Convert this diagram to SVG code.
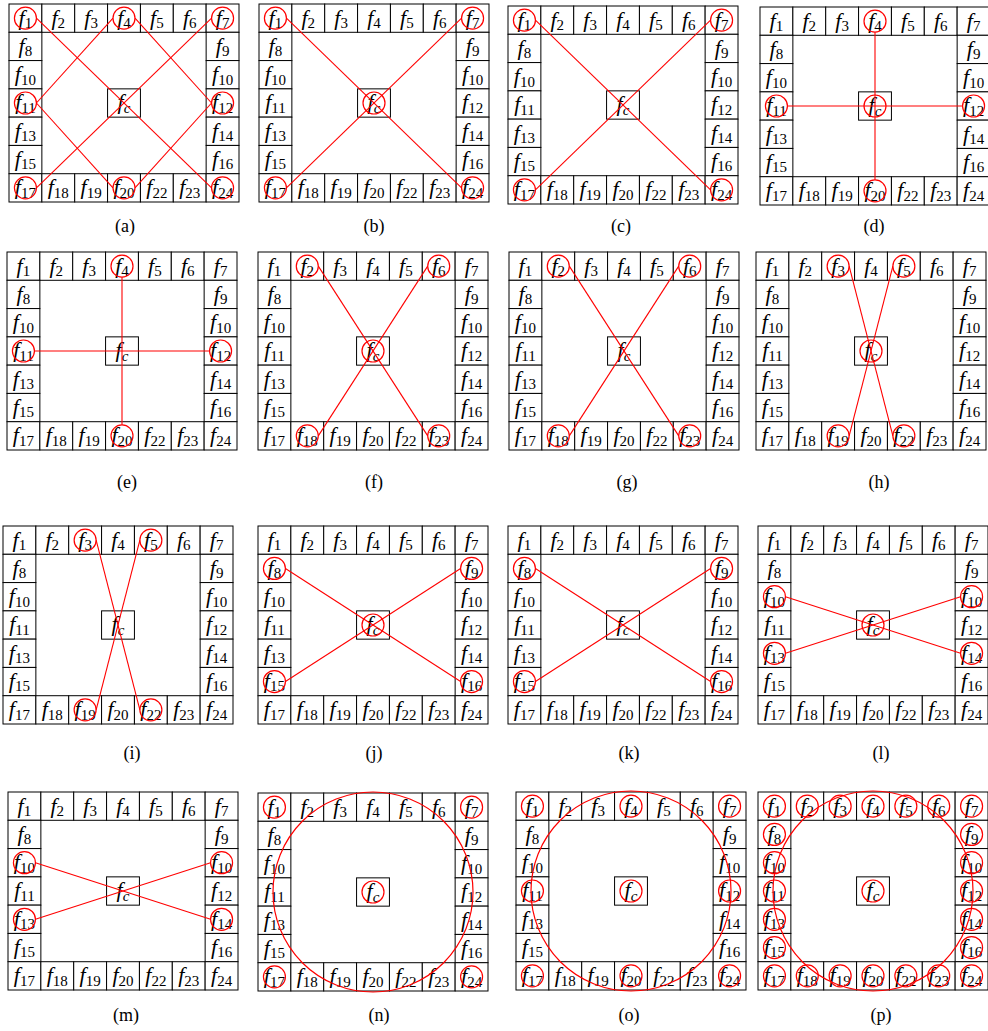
<svg xmlns="http://www.w3.org/2000/svg" xmlns:xlink="http://www.w3.org/1999/xlink" width="988" height="1031" viewBox="0 0 988 1031">
<style>
.cell rect{fill:#fff;stroke:#000;stroke-width:1}
.t{font-family:"Liberation Serif","Times New Roman",serif;font-size:22px;font-style:italic;text-anchor:middle;fill:#000}
.s{font-size:15px;font-style:normal}
.sc{font-size:15px;font-style:italic}
.mk circle{fill:none;stroke:#f00;stroke-width:1.2}
.conn line{stroke:#f00;stroke-width:1.1;fill:none}
.big{fill:none;stroke:#f00;stroke-width:1.2}
.lbl{font-family:"Liberation Serif","Times New Roman",serif;font-size:18px;text-anchor:middle;fill:#000}
</style>
<defs>
<g id="frame">
<g id="cell-f1" class="cell"><rect x="0" y="0" width="32.86" height="28.29"/><text class="t" x="16.43" y="20.5">f<tspan class="s" dy="3.5">1</tspan></text></g>
<g id="cell-f2" class="cell"><rect x="32.86" y="0" width="32.86" height="28.29"/><text class="t" x="49.29" y="20.5">f<tspan class="s" dy="3.5">2</tspan></text></g>
<g id="cell-f3" class="cell"><rect x="65.71" y="0" width="32.86" height="28.29"/><text class="t" x="82.14" y="20.5">f<tspan class="s" dy="3.5">3</tspan></text></g>
<g id="cell-f4" class="cell"><rect x="98.57" y="0" width="32.86" height="28.29"/><text class="t" x="115" y="20.5">f<tspan class="s" dy="3.5">4</tspan></text></g>
<g id="cell-f5" class="cell"><rect x="131.43" y="0" width="32.86" height="28.29"/><text class="t" x="147.86" y="20.5">f<tspan class="s" dy="3.5">5</tspan></text></g>
<g id="cell-f6" class="cell"><rect x="164.29" y="0" width="32.86" height="28.29"/><text class="t" x="180.71" y="20.5">f<tspan class="s" dy="3.5">6</tspan></text></g>
<g id="cell-f7" class="cell"><rect x="197.14" y="0" width="32.86" height="28.29"/><text class="t" x="213.57" y="20.5">f<tspan class="s" dy="3.5">7</tspan></text></g>
<g id="cell-f8" class="cell"><rect x="0" y="28.29" width="32.86" height="28.29"/><text class="t" x="16.43" y="48.79">f<tspan class="s" dy="3.5">8</tspan></text></g>
<g id="cell-f10-left" class="cell"><rect x="0" y="56.57" width="32.86" height="28.29"/><text class="t" x="16.43" y="77.07">f<tspan class="s" dy="3.5">10</tspan></text></g>
<g id="cell-f11" class="cell"><rect x="0" y="84.86" width="32.86" height="28.29"/><text class="t" x="16.43" y="105.36">f<tspan class="s" dy="3.5">11</tspan></text></g>
<g id="cell-f13" class="cell"><rect x="0" y="113.14" width="32.86" height="28.29"/><text class="t" x="16.43" y="133.64">f<tspan class="s" dy="3.5">13</tspan></text></g>
<g id="cell-f15" class="cell"><rect x="0" y="141.43" width="32.86" height="28.29"/><text class="t" x="16.43" y="161.93">f<tspan class="s" dy="3.5">15</tspan></text></g>
<g id="cell-f9" class="cell"><rect x="197.14" y="28.29" width="32.86" height="28.29"/><text class="t" x="213.57" y="48.79">f<tspan class="s" dy="3.5">9</tspan></text></g>
<g id="cell-f10-right" class="cell"><rect x="197.14" y="56.57" width="32.86" height="28.29"/><text class="t" x="213.57" y="77.07">f<tspan class="s" dy="3.5">10</tspan></text></g>
<g id="cell-f12" class="cell"><rect x="197.14" y="84.86" width="32.86" height="28.29"/><text class="t" x="213.57" y="105.36">f<tspan class="s" dy="3.5">12</tspan></text></g>
<g id="cell-f14" class="cell"><rect x="197.14" y="113.14" width="32.86" height="28.29"/><text class="t" x="213.57" y="133.64">f<tspan class="s" dy="3.5">14</tspan></text></g>
<g id="cell-f16" class="cell"><rect x="197.14" y="141.43" width="32.86" height="28.29"/><text class="t" x="213.57" y="161.93">f<tspan class="s" dy="3.5">16</tspan></text></g>
<g id="cell-f17" class="cell"><rect x="0" y="169.71" width="32.86" height="28.29"/><text class="t" x="16.43" y="190.21">f<tspan class="s" dy="3.5">17</tspan></text></g>
<g id="cell-f18" class="cell"><rect x="32.86" y="169.71" width="32.86" height="28.29"/><text class="t" x="49.29" y="190.21">f<tspan class="s" dy="3.5">18</tspan></text></g>
<g id="cell-f19" class="cell"><rect x="65.71" y="169.71" width="32.86" height="28.29"/><text class="t" x="82.14" y="190.21">f<tspan class="s" dy="3.5">19</tspan></text></g>
<g id="cell-f20" class="cell"><rect x="98.57" y="169.71" width="32.86" height="28.29"/><text class="t" x="115" y="190.21">f<tspan class="s" dy="3.5">20</tspan></text></g>
<g id="cell-f22" class="cell"><rect x="131.43" y="169.71" width="32.86" height="28.29"/><text class="t" x="147.86" y="190.21">f<tspan class="s" dy="3.5">22</tspan></text></g>
<g id="cell-f23" class="cell"><rect x="164.29" y="169.71" width="32.86" height="28.29"/><text class="t" x="180.71" y="190.21">f<tspan class="s" dy="3.5">23</tspan></text></g>
<g id="cell-f24" class="cell"><rect x="197.14" y="169.71" width="32.86" height="28.29"/><text class="t" x="213.57" y="190.21">f<tspan class="s" dy="3.5">24</tspan></text></g>
<g id="cell-fc" class="cell"><rect x="98.57" y="84.86" width="32.86" height="28.29"/><text class="t" x="115" y="105.36">f<tspan class="sc" dy="3.5">c</tspan></text></g>
</g>
</defs>

<g id="panel-a">
<g transform="translate(9,4)">
<use xlink:href="#frame" href="#frame"/>
<g class="conn" id="a-connectors">
<line x1="27.43" y1="14.14" x2="202.57" y2="183.86"/>
<line x1="202.57" y1="14.14" x2="27.43" y2="183.86"/>
<line x1="104" y1="14.14" x2="27.43" y2="99"/>
<line x1="126" y1="14.14" x2="202.57" y2="99"/>
<line x1="27.43" y1="99" x2="104" y2="183.86"/>
<line x1="202.57" y1="99" x2="126" y2="183.86"/>
</g>
<g class="mk" id="a-marks">
<circle cx="16.43" cy="14.14" r="11"/><circle cx="115" cy="14.14" r="11"/><circle cx="213.57" cy="14.14" r="11"/>
<circle cx="16.43" cy="99" r="11"/><circle cx="213.57" cy="99" r="11"/>
<circle cx="16.43" cy="183.86" r="11"/><circle cx="115" cy="183.86" r="11"/><circle cx="213.57" cy="183.86" r="11"/>
</g>
</g>
<text class="lbl" x="125" y="232">(a)</text>
</g>

<g id="panel-b">
<g transform="translate(259,4)">
<use xlink:href="#frame" href="#frame"/>
<g class="conn" id="b-connectors">
<line x1="27.43" y1="14.14" x2="202.57" y2="183.86"/>
<line x1="202.57" y1="14.14" x2="27.43" y2="183.86"/>
</g>
<g class="mk" id="b-marks">
<circle cx="16.43" cy="14.14" r="11"/><circle cx="213.57" cy="14.14" r="11"/>
<circle cx="16.43" cy="183.86" r="11"/><circle cx="213.57" cy="183.86" r="11"/>
<circle cx="115" cy="99" r="11"/>
</g>
</g>
<text class="lbl" x="374" y="232">(b)</text>
</g>

<g id="panel-c">
<g transform="translate(508,6)">
<use xlink:href="#frame" href="#frame"/>
<g class="conn" id="c-connectors">
<line x1="27.43" y1="14.14" x2="202.57" y2="183.86"/>
<line x1="202.57" y1="14.14" x2="27.43" y2="183.86"/>
</g>
<g class="mk" id="c-marks">
<circle cx="16.43" cy="14.14" r="11"/><circle cx="213.57" cy="14.14" r="11"/>
<circle cx="16.43" cy="183.86" r="11"/><circle cx="213.57" cy="183.86" r="11"/>
</g>
</g>
<text class="lbl" x="621" y="232">(c)</text>
</g>

<g id="panel-d">
<g transform="translate(760,7)">
<use xlink:href="#frame" href="#frame"/>
<g class="conn" id="d-connectors">
<line x1="115" y1="25.14" x2="115" y2="172.86"/>
<line x1="27.43" y1="99" x2="202.57" y2="99"/>
</g>
<g class="mk" id="d-marks">
<circle cx="115" cy="14.14" r="11"/><circle cx="16.43" cy="99" r="11"/><circle cx="213.57" cy="99" r="11"/>
<circle cx="115" cy="183.86" r="11"/><circle cx="115" cy="99" r="11"/>
</g>
</g>
<text class="lbl" x="874" y="232">(d)</text>
</g>

<g id="panel-e">
<g transform="translate(7,252)">
<use xlink:href="#frame" href="#frame"/>
<g class="conn" id="e-connectors">
<line x1="115" y1="25.14" x2="115" y2="172.86"/>
<line x1="27.43" y1="99" x2="202.57" y2="99"/>
</g>
<g class="mk" id="e-marks">
<circle cx="115" cy="14.14" r="11"/><circle cx="16.43" cy="99" r="11"/><circle cx="213.57" cy="99" r="11"/>
<circle cx="115" cy="183.86" r="11"/>
</g>
</g>
<text class="lbl" x="127" y="488">(e)</text>
</g>

<g id="panel-f">
<g transform="translate(258,252)">
<use xlink:href="#frame" href="#frame"/>
<g class="conn" id="f-connectors">
<line x1="60.29" y1="14.14" x2="169.71" y2="183.86"/>
<line x1="169.71" y1="14.14" x2="60.29" y2="183.86"/>
</g>
<g class="mk" id="f-marks">
<circle cx="49.29" cy="14.14" r="11"/><circle cx="180.71" cy="14.14" r="11"/>
<circle cx="49.29" cy="183.86" r="11"/><circle cx="180.71" cy="183.86" r="11"/>
<circle cx="115" cy="99" r="11"/>
</g>
</g>
<text class="lbl" x="374" y="488">(f)</text>
</g>

<g id="panel-g">
<g transform="translate(509,252)">
<use xlink:href="#frame" href="#frame"/>
<g class="conn" id="g-connectors">
<line x1="60.29" y1="14.14" x2="169.71" y2="183.86"/>
<line x1="169.71" y1="14.14" x2="60.29" y2="183.86"/>
</g>
<g class="mk" id="g-marks">
<circle cx="49.29" cy="14.14" r="11"/><circle cx="180.71" cy="14.14" r="11"/>
<circle cx="49.29" cy="183.86" r="11"/><circle cx="180.71" cy="183.86" r="11"/>
</g>
</g>
<text class="lbl" x="627" y="488">(g)</text>
</g>

<g id="panel-h">
<g transform="translate(756,252)">
<use xlink:href="#frame" href="#frame"/>
<g class="conn" id="h-connectors">
<line x1="93.14" y1="14.14" x2="136.86" y2="183.86"/>
<line x1="136.86" y1="14.14" x2="93.14" y2="183.86"/>
</g>
<g class="mk" id="h-marks">
<circle cx="82.14" cy="14.14" r="11"/><circle cx="147.86" cy="14.14" r="11"/>
<circle cx="82.14" cy="183.86" r="11"/><circle cx="147.86" cy="183.86" r="11"/>
<circle cx="115" cy="99" r="11"/>
</g>
</g>
<text class="lbl" x="879" y="488">(h)</text>
</g>

<g id="panel-i">
<g transform="translate(3,526)">
<use xlink:href="#frame" href="#frame"/>
<g class="conn" id="i-connectors">
<line x1="93.14" y1="14.14" x2="136.86" y2="183.86"/>
<line x1="136.86" y1="14.14" x2="93.14" y2="183.86"/>
</g>
<g class="mk" id="i-marks">
<circle cx="82.14" cy="14.14" r="11"/><circle cx="147.86" cy="14.14" r="11"/>
<circle cx="82.14" cy="183.86" r="11"/><circle cx="147.86" cy="183.86" r="11"/>
</g>
</g>
<text class="lbl" x="132" y="759">(i)</text>
</g>

<g id="panel-j">
<g transform="translate(258,526)">
<use xlink:href="#frame" href="#frame"/>
<g class="conn" id="j-connectors">
<line x1="27.43" y1="42.43" x2="202.57" y2="155.57"/>
<line x1="202.57" y1="42.43" x2="27.43" y2="155.57"/>
</g>
<g class="mk" id="j-marks">
<circle cx="16.43" cy="42.43" r="11"/><circle cx="213.57" cy="42.43" r="11"/>
<circle cx="16.43" cy="155.57" r="11"/><circle cx="213.57" cy="155.57" r="11"/>
<circle cx="115" cy="99" r="11"/>
</g>
</g>
<text class="lbl" x="374" y="759">(j)</text>
</g>

<g id="panel-k">
<g transform="translate(508,526)">
<use xlink:href="#frame" href="#frame"/>
<g class="conn" id="k-connectors">
<line x1="27.43" y1="42.43" x2="202.57" y2="155.57"/>
<line x1="202.57" y1="42.43" x2="27.43" y2="155.57"/>
</g>
<g class="mk" id="k-marks">
<circle cx="16.43" cy="42.43" r="11"/><circle cx="213.57" cy="42.43" r="11"/>
<circle cx="16.43" cy="155.57" r="11"/><circle cx="213.57" cy="155.57" r="11"/>
</g>
</g>
<text class="lbl" x="629" y="759">(k)</text>
</g>

<g id="panel-l">
<g transform="translate(758,526)">
<use xlink:href="#frame" href="#frame"/>
<g class="conn" id="l-connectors">
<line x1="27.43" y1="70.71" x2="202.57" y2="127.29"/>
<line x1="202.57" y1="70.71" x2="27.43" y2="127.29"/>
</g>
<g class="mk" id="l-marks">
<circle cx="16.43" cy="70.71" r="11"/><circle cx="213.57" cy="70.71" r="11"/>
<circle cx="16.43" cy="127.29" r="11"/><circle cx="213.57" cy="127.29" r="11"/>
<circle cx="115" cy="99" r="11"/>
</g>
</g>
<text class="lbl" x="881" y="759">(l)</text>
</g>

<g id="panel-m">
<g transform="translate(8,792)">
<use xlink:href="#frame" href="#frame"/>
<g class="conn" id="m-connectors">
<line x1="27.43" y1="70.71" x2="202.57" y2="127.29"/>
<line x1="202.57" y1="70.71" x2="27.43" y2="127.29"/>
</g>
<g class="mk" id="m-marks">
<circle cx="16.43" cy="70.71" r="11"/><circle cx="213.57" cy="70.71" r="11"/>
<circle cx="16.43" cy="127.29" r="11"/><circle cx="213.57" cy="127.29" r="11"/>
</g>
</g>
<text class="lbl" x="126" y="1021">(m)</text>
</g>

<g id="panel-n">
<g transform="translate(258,793)">
<use xlink:href="#frame" href="#frame"/>
<g class="conn" id="n-connectors">
<circle class="big" cx="115" cy="99" r="100"/>
</g>
<g class="mk" id="n-marks">
<circle cx="16.43" cy="14.14" r="11"/><circle cx="213.57" cy="14.14" r="11"/>
<circle cx="16.43" cy="183.86" r="11"/><circle cx="213.57" cy="183.86" r="11"/>
<circle cx="115" cy="99" r="11"/>
</g>
</g>
<text class="lbl" x="379" y="1021">(n)</text>
</g>

<g id="panel-o">
<g transform="translate(516,792)">
<use xlink:href="#frame" href="#frame"/>
<g class="conn" id="o-connectors">
<circle class="big" cx="115" cy="99" r="100"/>
</g>
<g class="mk" id="o-marks">
<circle cx="16.43" cy="14.14" r="11"/><circle cx="115" cy="14.14" r="11"/><circle cx="213.57" cy="14.14" r="11"/>
<circle cx="16.43" cy="99" r="11"/><circle cx="213.57" cy="99" r="11"/>
<circle cx="16.43" cy="183.86" r="11"/><circle cx="115" cy="183.86" r="11"/><circle cx="213.57" cy="183.86" r="11"/>
<circle cx="115" cy="99" r="11"/>
</g>
</g>
<text class="lbl" x="629" y="1021">(o)</text>
</g>

<g id="panel-p">
<g transform="translate(758,792)">
<use xlink:href="#frame" href="#frame"/>
<g class="conn" id="p-connectors">
<circle class="big" cx="115" cy="99" r="100"/>
</g>
<g class="mk" id="p-marks">
<circle cx="16.43" cy="14.14" r="11"/><circle cx="49.29" cy="14.14" r="11"/><circle cx="82.14" cy="14.14" r="11"/><circle cx="115" cy="14.14" r="11"/><circle cx="147.86" cy="14.14" r="11"/><circle cx="180.71" cy="14.14" r="11"/><circle cx="213.57" cy="14.14" r="11"/>
<circle cx="16.43" cy="42.43" r="11"/><circle cx="16.43" cy="70.71" r="11"/><circle cx="16.43" cy="99" r="11"/><circle cx="16.43" cy="127.29" r="11"/><circle cx="16.43" cy="155.57" r="11"/>
<circle cx="213.57" cy="42.43" r="11"/><circle cx="213.57" cy="70.71" r="11"/><circle cx="213.57" cy="99" r="11"/><circle cx="213.57" cy="127.29" r="11"/><circle cx="213.57" cy="155.57" r="11"/>
<circle cx="16.43" cy="183.86" r="11"/><circle cx="49.29" cy="183.86" r="11"/><circle cx="82.14" cy="183.86" r="11"/><circle cx="115" cy="183.86" r="11"/><circle cx="147.86" cy="183.86" r="11"/><circle cx="180.71" cy="183.86" r="11"/><circle cx="213.57" cy="183.86" r="11"/>
<circle cx="115" cy="99" r="11"/>
</g>
</g>
<text class="lbl" x="881" y="1021">(p)</text>
</g>
</svg>
